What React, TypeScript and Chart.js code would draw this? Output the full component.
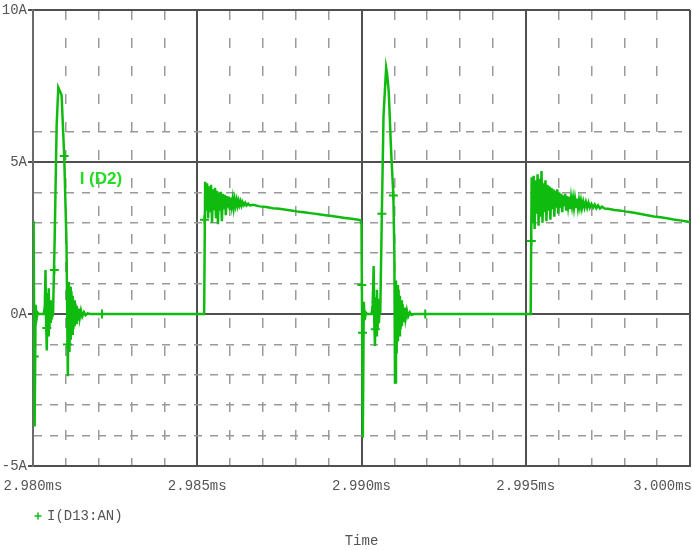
import React, { useEffect, useRef } from 'react';
import { Chart, registerables } from 'chart.js';

Chart.register(...registerables);

// ---- data (time in µs, current in A) ----
const period1Time = [
  2980.00, 2980.02, 2980.05, 2980.08, 2980.11, 2980.14, 2980.18, 2980.33, 2980.36, 2980.38,
  2980.40, 2980.42, 2980.44, 2980.46, 2980.48, 2980.50, 2980.52, 2980.54, 2980.56, 2980.58,
  2980.61, 2980.62, 2980.66, 2980.72, 2980.77, 2980.81, 2980.87, 2980.95, 2981.02, 2981.06,
  2981.09, 2981.11, 2981.13, 2981.15, 2981.17, 2981.19, 2981.21, 2981.23, 2981.25, 2981.27,
  2981.29, 2981.31, 2981.33, 2981.36, 2981.39, 2981.42, 2981.46, 2981.50, 2981.55, 2981.60,
  2981.66, 2981.74, 2985.21, 2985.24,
  2985.27, 2985.30, 2985.33, 2985.36, 2985.39, 2985.42, 2985.45, 2985.48, 2985.51, 2985.54,
  2985.57, 2985.60, 2985.63, 2985.66, 2985.69, 2985.72, 2985.75, 2985.78, 2985.81, 2985.84,
  2985.87, 2985.90, 2985.93, 2985.96, 2985.99, 2986.02, 2986.05, 2986.08, 2986.11, 2986.14,
  2986.17, 2986.20, 2986.23, 2986.26, 2986.29, 2986.32, 2986.35, 2986.38, 2986.42, 2986.46,
  2986.50, 2986.55, 2986.60,
  2986.70, 2986.90, 2987.10, 2987.30, 2987.50, 2987.70, 2987.90, 2988.10, 2988.30, 2988.50,
  2988.70, 2988.90, 2989.10, 2989.30, 2989.50, 2989.70, 2989.90, 2989.97,
];
const period1Current = [
  3.05, 2.95, -3.7, 0.3, -0.15, 0.05, 0.0, 0.0, 0.25, 1.45,
  -0.3, -1.2, 0.7, -0.7, 0.85, -0.5, 0.45, -0.3, 0.2, -0.1,
  0.0, 0.0, 2.5, 6.2, 7.45, 7.35, 7.2, 5.2, 2.3, -2.05,
  1.05, -1.25, 0.9, -0.85, 0.75, -0.65, 0.6, -0.5, 0.45, -0.4,
  0.35, -0.3, 0.27, -0.22, 0.18, -0.14, 0.11, -0.08, 0.06, -0.04,
  0.02, 0.0, 0.0, 4.35,
  3.4, 4.3, 3.15, 4.2, 3.35, 4.25, 3.0, 4.1, 3.45, 4.15,
  3.15, 4.05, 2.95, 4.0, 3.4, 4.02, 3.05, 3.95, 3.45, 3.92,
  3.25, 3.88, 3.5, 3.86, 3.42, 3.83, 3.55, 3.8, 3.5, 3.77,
  3.57, 3.75, 3.56, 3.72, 3.58, 3.7, 3.57, 3.68, 3.58, 3.66,
  3.57, 3.63, 3.57,
  3.59, 3.54, 3.52, 3.48, 3.46, 3.43, 3.40, 3.36, 3.34, 3.31,
  3.28, 3.25, 3.22, 3.19, 3.16, 3.13, 3.10, 3.08,
];

const period2Time = [
  2990.00, 2990.04, 2990.07, 2990.10, 2990.13, 2990.17, 2990.31, 2990.34, 2990.37, 2990.39,
  2990.41, 2990.43, 2990.45, 2990.47, 2990.49, 2990.51, 2990.53, 2990.55, 2990.57, 2990.59,
  2990.62, 2990.67, 2990.75, 2990.78, 2990.83, 2990.90, 2990.97, 2991.00, 2991.02,
  2991.05, 2991.07, 2991.09, 2991.11, 2991.13, 2991.15, 2991.17, 2991.19, 2991.21, 2991.23,
  2991.25, 2991.28, 2991.31, 2991.34, 2991.38, 2991.42, 2991.47, 2991.52, 2991.60,
  2995.15, 2995.18,
  2995.21, 2995.24, 2995.27, 2995.30, 2995.33, 2995.36, 2995.39, 2995.42, 2995.45, 2995.48,
  2995.51, 2995.54, 2995.57, 2995.60, 2995.63, 2995.66, 2995.69, 2995.72, 2995.75, 2995.78,
  2995.81, 2995.84, 2995.87, 2995.90, 2995.93, 2995.96, 2995.99, 2996.02, 2996.05, 2996.08,
  2996.11, 2996.14, 2996.17, 2996.20, 2996.23, 2996.26, 2996.29, 2996.32, 2996.35, 2996.38,
  2996.41, 2996.44, 2996.47, 2996.50, 2996.53, 2996.56, 2996.59, 2996.62, 2996.65, 2996.68,
  2996.71, 2996.75, 2996.79, 2996.83, 2996.87, 2996.91, 2996.95, 2997.00, 2997.05, 2997.10,
  2997.15, 2997.20, 2997.26, 2997.32, 2997.40,
  2997.50, 2997.70, 2997.90, 2998.10, 2998.30, 2998.50, 2998.70, 2998.90, 2999.10, 2999.30,
  2999.50, 2999.70, 2999.90, 3000.00,
];
const period2Current = [
  2.95, -4.07, 0.4, -0.2, 0.05, 0.0, 0.0, 0.3, 1.58, -0.3,
  -1.05, 0.55, -0.7, 0.8, -0.5, 0.5, -0.3, 0.2, 0.0, 0.0,
  3.3, 6.5, 8.1, 7.9, 7.3, 5.4, 3.9, 2.0, -2.25,
  1.1, -1.3, 0.95, -0.9, 0.8, -0.7, 0.6, -0.5, 0.45, -0.4,
  0.33, -0.27, 0.21, -0.16, 0.12, -0.08, 0.05, -0.03, 0.0,
  0.0, 4.5,
  3.0, 4.55, 2.8, 4.4, 3.3, 4.6, 2.9, 4.45, 3.2, 4.7,
  3.0, 4.3, 3.35, 4.4, 3.05, 4.25, 3.4, 4.2, 3.1, 4.15,
  3.45, 4.1, 3.2, 4.05, 3.5, 4.1, 3.3, 4.0, 3.5, 3.95,
  3.35, 3.9, 3.55, 3.95, 3.4, 3.88, 3.55, 3.85, 3.45, 3.82,
  3.55, 3.8, 3.5, 3.78, 3.52, 3.8, 3.5, 3.74, 3.52, 3.72,
  3.48, 3.7, 3.5, 3.68, 3.5, 3.66, 3.5, 3.62, 3.5, 3.6,
  3.48, 3.57, 3.47, 3.53, 3.47,
  3.46, 3.42, 3.40, 3.36, 3.33, 3.29, 3.25, 3.21, 3.18, 3.15,
  3.11, 3.08, 3.04, 3.02,
];

const markerTime = [2980.04, 2980.42, 2980.65, 2980.95, 2981.05, 2982.10, 2985.22, 2990.01, 2990.03, 2990.42, 2990.62, 2990.97, 2991.94, 2995.17];
const markerCurrent = [-1.4, -0.46, 1.45, 5.2, -1.0, 0.0, 3.1, 0.95, -0.62, -0.5, 3.3, 3.9, 0.0, 2.4];

const xMajorTicks = [2980, 2985, 2990, 2995, 3000];
const xTickLabels = ['2.980ms', '2.985ms', '2.990ms', '2.995ms', '3.000ms'];
const yMajorTicks = [-5, 0, 5, 10];
const yTickLabels = ['-5A', '0A', '5A', '10A'];
const hiddenMinorRows = [7, 8, 9];

const seriesLabel = 'I(D13:AN)';
const traceName = 'I (D2)';
const traceNamePos = { x: 2981.42, y: 4.44 };

const GREEN = '#10bb10';
const LABEL_GREEN = '#22dd22';
const MAJOR = '#505050';
const MINOR = '#9a9a9a';
const TEXT = '#555555';
const FONT = "'Liberation Mono', 'DejaVu Sans Mono', monospace";

const isMajor = (v: number) => Math.abs(v % 5) < 1e-6;

const overlayPlugin = {
  id: 'overlay',
  afterDraw(chart: any) {
    const { ctx, chartArea, scales } = chart;
    const xs = scales.x;
    const ys = scales.y;
    ctx.save();
    ctx.font = `14px ${FONT}`;
    ctx.fillStyle = TEXT;
    ctx.textBaseline = 'middle';
    ctx.textAlign = 'left';
    xMajorTicks.forEach((v, i) => {
      const label = xTickLabels[i];
      const w = ctx.measureText(label).width;
      const px = xs.getPixelForValue(v);
      let left = px - w / 2;
      if (left < 0) left = 0;
      if (left + w > chart.width) left = chart.width - w;
      ctx.fillText(label, left, chartArea.bottom + 20);
    });
    const lx = chartArea.left + 5;
    const ly = chartArea.bottom + 50;
    ctx.strokeStyle = GREEN;
    ctx.lineWidth = 1.5;
    ctx.beginPath();
    ctx.moveTo(lx - 3.5, ly);
    ctx.lineTo(lx + 3.5, ly);
    ctx.moveTo(lx, ly - 3.5);
    ctx.lineTo(lx, ly + 3.5);
    ctx.stroke();
    ctx.fillStyle = TEXT;
    ctx.fillText(seriesLabel, lx + 9, ly);
    ctx.font = `bold 17px 'Liberation Sans', Arial, sans-serif`;
    ctx.fillStyle = LABEL_GREEN;
    ctx.fillText(traceName, xs.getPixelForValue(traceNamePos.x), ys.getPixelForValue(traceNamePos.y));
    ctx.restore();
  },
};

export default function App() {
  const ref = useRef<HTMLCanvasElement>(null);
  useEffect(() => {
    const canvas = ref.current;
    if (!canvas) return;
    const trace = [
      ...period1Time.map((t, i) => ({ x: t, y: period1Current[i] })),
      ...period2Time.map((t, i) => ({ x: t, y: period2Current[i] })),
    ];
    const markers = markerTime.map((t, i) => ({ x: t, y: markerCurrent[i] }));
    const chart = new Chart(canvas, {
      type: 'scatter',
      data: {
        datasets: [
          {
            label: seriesLabel,
            data: trace,
            showLine: true,
            borderColor: GREEN,
            backgroundColor: GREEN,
            borderWidth: 2.5,
            pointRadius: 0,
            tension: 0,
            order: 2,
          } as any,
          {
            label: 'markers',
            data: markers,
            showLine: false,
            pointStyle: 'cross',
            pointRadius: 4.5,
            borderColor: GREEN,
            borderWidth: 2,
            order: 1,
          } as any,
        ],
      },
      options: {
        responsive: false,
        animation: false,
        devicePixelRatio: 1,
        layout: { autoPadding: false, padding: { top: 10, right: 2, left: 0, bottom: 0 } },
        plugins: { legend: { display: false }, tooltip: { enabled: false } },
        scales: {
          x: {
            type: 'linear',
            min: 2980,
            max: 3000,
            ticks: { stepSize: 1, display: false, maxTicksLimit: 100 },
            grid: {
              drawTicks: false,
              color: (c: any) => (c.tick && isMajor(c.tick.value) ? MAJOR : MINOR),
              lineWidth: (c: any) => (c.tick && isMajor(c.tick.value) ? 2 : 1.5),
            },
            border: {
              color: MAJOR,
              width: 2,
              dash: (c: any) => (c.tick && !isMajor(c.tick.value) ? [10, 18] : []),
            } as any,
            title: {
              display: true,
              text: 'Time',
              color: TEXT,
              font: { family: FONT, size: 14 },
              padding: { top: 0, bottom: 0 },
            },
            afterFit: (s: any) => {
              s.height = 84;
              s.paddingLeft = 0;
              s.paddingRight = 0;
            },
          },
          y: {
            type: 'linear',
            min: -5,
            max: 10,
            ticks: {
              stepSize: 1,
              maxTicksLimit: 100,
              padding: 1,
              color: TEXT,
              font: { family: FONT, size: 14 },
              callback: (v: any) => {
                const idx = yMajorTicks.indexOf(Number(v));
                return idx >= 0 ? yTickLabels[idx] : '';
              },
            },
            grid: {
              tickLength: 5,
              tickWidth: 2,
              tickColor: (c: any) => (c.tick && isMajor(c.tick.value) ? MAJOR : 'rgba(0,0,0,0)'),
              color: (c: any) => {
                if (!c.tick) return MAJOR;
                if (isMajor(c.tick.value)) return MAJOR;
                if (hiddenMinorRows.includes(c.tick.value)) return 'rgba(0,0,0,0)';
                return MINOR;
              },
              lineWidth: (c: any) => (c.tick && isMajor(c.tick.value) ? 2 : 1.5),
            },
            border: {
              color: '#6a6a6a',
              width: 2,
              dash: (c: any) => (c.tick && !isMajor(c.tick.value) ? [8, 8] : []),
            } as any,
            afterFit: (s: any) => {
              s.width = 33;
            },
          },
        },
      },
      plugins: [overlayPlugin],
    });
    return () => chart.destroy();
  }, []);
  return (
    <div style={{ position: 'absolute', left: 0, top: 0, width: 692, height: 550, background: '#fff' }}>
      <canvas ref={ref} width={692} height={550} style={{ display: 'block' }} />
    </div>
  );
}
